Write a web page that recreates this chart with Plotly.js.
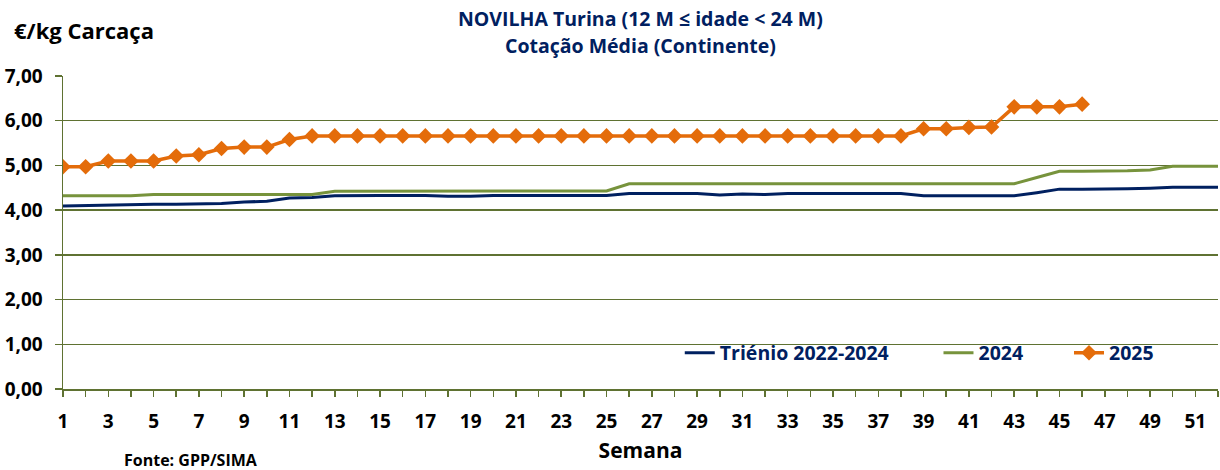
<!DOCTYPE html>
<html>
<head>
<meta charset="utf-8">
<script src="https://cdn.plot.ly/plotly-3.0.1.min.js"></script>
<style>html,body{margin:0;padding:0;background:#fff;}#chart{width:1220px;height:470px;}</style>
</head>
<body>
<div id="chart"></div>
<script>
const weeks = Array.from({length: 52}, (_, i) => i + 1);
const trienio = [4.09,4.10,4.12,4.12,4.13,4.13,4.14,4.15,4.18,4.20,4.27,4.28,4.32,4.33,4.33,4.33,4.33,4.31,4.31,4.33,
  4.33,4.33,4.33,4.33,4.33,4.37,4.37,4.37,4.37,4.34,4.36,4.35,4.37,4.37,4.37,4.37,4.37,4.37,4.32,4.32,
  4.32,4.32,4.32,4.39,4.47,4.47,4.47,4.48,4.49,4.51,4.51,4.51];
const y2024 = [4.32,4.32,4.32,4.32,4.35,4.35,4.35,4.35,4.35,4.35,4.35,4.35,4.42,4.42,4.42,4.42,4.42,4.42,4.42,4.43,
  4.43,4.43,4.43,4.43,4.43,4.59,4.59,4.59,4.59,4.59,4.59,4.59,4.59,4.59,4.59,4.59,4.59,4.58,4.59,4.59,
  4.59,4.59,4.59,4.73,4.87,4.87,4.87,4.88,4.90,4.98,4.98,4.98];
const y2025 = [4.97,4.97,5.10,5.10,5.10,5.21,5.24,5.38,5.41,5.41,5.58,5.66,
  5.66,5.66,5.66,5.66,5.66,5.66,5.66,5.66,5.66,5.66,5.66,5.66,5.66,5.66,5.66,5.66,5.66,5.66,5.66,5.66,5.66,5.66,5.66,5.66,5.66,5.66,
  5.82,5.82,5.85,5.86,6.31,6.31,6.31,6.37];
const seriesNames = ['Triénio 2022-2024', '2024', '2025'];
const titleLines = ['NOVILHA Turina (12 M ≤ idade < 24 M)', 'Cotação Média (Continente)'];
const xTickVals = weeks.filter(w => w % 2 === 1);
const yTickVals = [0, 1, 2, 3, 4, 5, 6, 7];

const FONT = '"Open Sans", Lato, sans-serif';
const NAVY = '#002060';
const GRID = '#5f7232';

const traces = [
  {x: weeks, y: trienio, name: seriesNames[0], type: 'scatter', mode: 'lines',
   line: {color: NAVY, width: 3}, legend: 'legend', showlegend: true},
  {x: weeks, y: y2024, name: seriesNames[1], type: 'scatter', mode: 'lines',
   line: {color: '#77933c', width: 3}, legend: 'legend2', showlegend: true},
  {x: weeks.slice(0, y2025.length), y: y2025, name: seriesNames[2], type: 'scatter', mode: 'lines+markers',
   line: {color: '#e46c0a', width: 3.5}, marker: {symbol: 'diamond', size: 12, color: '#e46c0a'}, legend: 'legend3', showlegend: true}
];

const legendFont = {family: FONT, size: 19.5, color: NAVY, weight: 'bold'};
const titleFont = {family: FONT, size: 19.5, color: NAVY, weight: 'bold'};
const tickFont = {family: FONT, size: 19, color: '#000', weight: 'bold'};
const layout = {
  width: 1220, height: 470,
  showlegend: true,
  margin: {l: 63, r: 2, t: 76, b: 81},
  paper_bgcolor: '#fff', plot_bgcolor: '#fff',
  font: {family: FONT, color: '#000'},
  separators: ',.',
  xaxis: {
    range: [1, 52], tickvals: xTickVals, ticktext: xTickVals.map(String),
    showgrid: false, zeroline: false, showline: true, linecolor: GRID, linewidth: 1.5,
    ticks: 'outside', ticklen: 6, tickcolor: GRID, tickwidth: 1.5,
    minor: {dtick: 1, tick0: 1, ticks: 'outside', ticklen: 6, tickcolor: GRID, tickwidth: 1.5, showgrid: false},
    tickfont: tickFont, ticklabelstandoff: 9,
    title: {text: 'Semana', font: {family: FONT, size: 21, color: '#000', weight: 'bold'}, standoff: 10}
  },
  yaxis: {
    range: [0, 7], tickvals: yTickVals, tickformat: '.2f',
    showgrid: true, gridcolor: GRID, gridwidth: 1.5, zeroline: false,
    showline: true, linecolor: GRID, linewidth: 1.5,
    ticks: 'outside', ticklen: 7, tickcolor: GRID, tickwidth: 1.5,
    tickfont: tickFont, ticklabelstandoff: 8
  },
  legend: {x: 0.534, y: 0.115, xanchor: 'left', yanchor: 'middle', orientation: 'h', font: legendFont, bgcolor: 'rgba(0,0,0,0)', itemwidth: 30},
  legend2: {x: 0.758, y: 0.115, xanchor: 'left', yanchor: 'middle', orientation: 'h', font: legendFont, bgcolor: 'rgba(0,0,0,0)', itemwidth: 30},
  legend3: {x: 0.871, y: 0.115, xanchor: 'left', yanchor: 'middle', orientation: 'h', font: legendFont, bgcolor: 'rgba(0,0,0,0)', itemwidth: 30},
  annotations: [
    {text: titleLines[0], xref: 'paper', yref: 'paper', x: 0.5, y: 1.185, xanchor: 'center', yanchor: 'middle',
     showarrow: false, font: titleFont},
    {text: titleLines[1], xref: 'paper', yref: 'paper', x: 0.5, y: 1.099, xanchor: 'center', yanchor: 'middle',
     showarrow: false, font: titleFont},
    {text: '€/kg Carcaça', xref: 'paper', yref: 'paper', x: -0.0442, y: 1.147, xanchor: 'left', yanchor: 'middle',
     showarrow: false, font: {family: FONT, size: 22, color: '#000', weight: 'bold'}},
    {text: 'Fonte: GPP/SIMA', xref: 'paper', yref: 'paper', x: 0.0511, y: -0.227, xanchor: 'left', yanchor: 'middle',
     showarrow: false, font: {family: FONT, size: 16, color: '#000', weight: 'bold'}}
  ]
};

Plotly.newPlot('chart', traces, layout, {displayModeBar: false, staticPlot: true});
</script>
</body>
</html>
